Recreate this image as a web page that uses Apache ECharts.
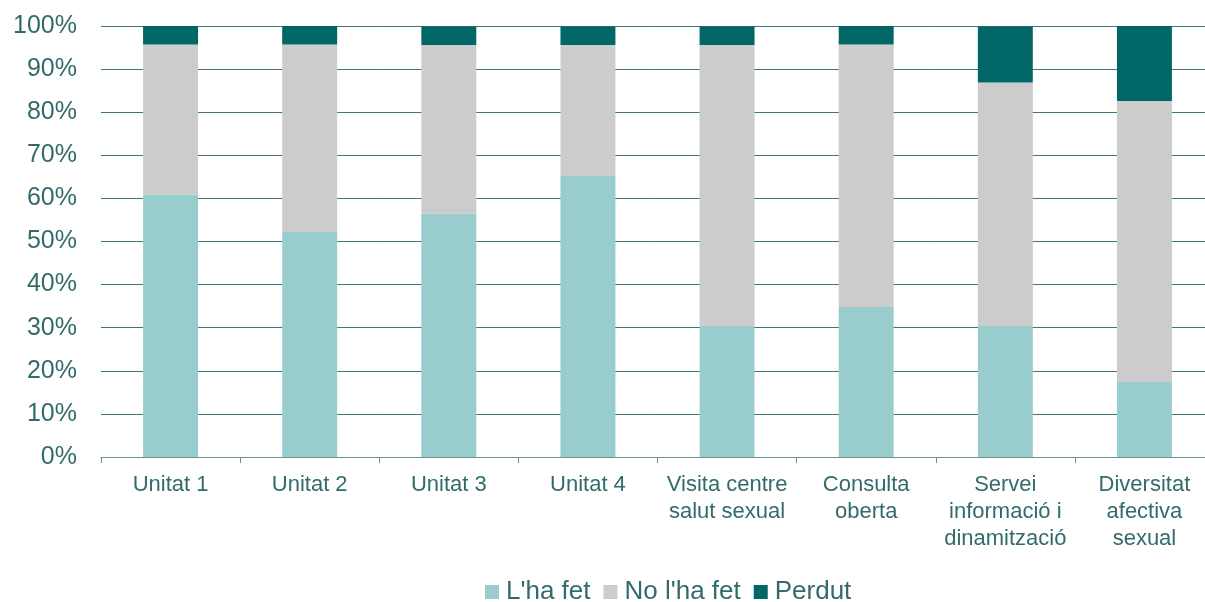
<!DOCTYPE html>
<html>
<head>
  <meta charset="UTF-8">
  <title>Activitats</title>
  <style type="text/css">
    html, body {padding: 0; margin: 0; background: #fff;}
    #chart {width: 1205px; height: 602px;}
  </style>
</head>
<body>
  <div id="chart"></div>
  <script src="https://cdn.jsdelivr.net/npm/echarts@6/dist/echarts.min.js"></script>
  <script type="text/javascript">
    var categories = ['Unitat 1', 'Unitat 2', 'Unitat 3', 'Unitat 4',
      'Visita centre\nsalut sexual', 'Consulta\noberta',
      'Servei\ninformació i\ndinamització', 'Diversitat\nafectiva\nsexual'];
    var fet = [60.9, 52.2, 56.5, 65.2, 30.4, 34.8, 30.4, 17.4];
    var noFet = [34.8, 43.5, 39.1, 30.4, 65.2, 60.9, 56.5, 65.2];
    var perdut = [4.3, 4.3, 4.3, 4.3, 4.3, 4.3, 13.0, 17.4];
    var yTicks = [0, 10, 20, 30, 40, 50, 60, 70, 80, 90, 100];

    var textColor = '#336B6B';
    var lineColor = '#3F7674';

    var chart = echarts.init(document.getElementById('chart'));
    chart.setOption({
      animation: false,
      textStyle: {fontFamily: 'Liberation Sans, Arial, sans-serif'},
      // plot runs a little past the right edge, as in the original
      grid: {left: 101, top: 26, width: 1113, height: 431, outerBoundsMode: 'none', containLabel: false},
      legend: {
        top: 574,
        left: 480,
        itemWidth: 14,
        itemHeight: 14,
        itemGap: 13,
        icon: 'rect',
        textStyle: {fontSize: 26, color: textColor, padding: [0, 0, 0, 2]},
        data: ["L'ha fet", "No l'ha fet", 'Perdut']
      },
      xAxis: {
        type: 'category',
        data: categories,
        axisLine: {lineStyle: {color: '#6E9492', width: 1}},
        axisTick: {show: true, length: 6, lineStyle: {color: '#6E9492'}},
        axisLabel: {fontSize: 22, color: textColor, lineHeight: 27, margin: 14, interval: 0}
      },
      yAxis: {
        type: 'value',
        min: yTicks[0],
        max: yTicks[yTicks.length - 1],
        interval: 10,
        axisLine: {show: false},
        axisTick: {show: false},
        splitLine: {lineStyle: {color: lineColor, width: 1}},
        axisLabel: {fontSize: 25, color: textColor, margin: 24, formatter: '{value}%'}
      },
      series: [
        {name: "L'ha fet", type: 'bar', stack: 'a', barWidth: '39.5%', data: fet,
          itemStyle: {color: '#99CCCC'}},
        {name: "No l'ha fet", type: 'bar', stack: 'a', data: noFet,
          itemStyle: {color: '#CCCCCC'}},
        {name: 'Perdut', type: 'bar', stack: 'a', data: perdut,
          itemStyle: {color: '#006666'}}
      ]
    });
  </script>
</body>
</html>
